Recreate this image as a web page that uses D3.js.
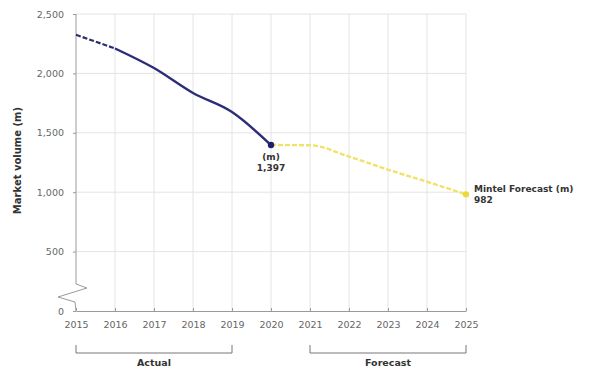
<!DOCTYPE html>
<html>
<head>
<meta charset="utf-8">
<script src="https://cdn.jsdelivr.net/npm/d3@7"></script>
<style>
  html, body { margin: 0; padding: 0; background: #fff; }
  svg { display: block; font-family: "DejaVu Sans", Verdana, sans-serif; }
</style>
</head>
<body>
<svg id="chart" width="592" height="373"></svg>
<script>
// Market volume (m), actual and forecast
const years = [2015, 2016, 2017, 2018, 2019, 2020, 2021, 2022, 2023, 2024, 2025];
const estYears = [2015, 2016];
const estValues = [2325, 2210];
const actualYears = [2016, 2017, 2018, 2019, 2020];
const actualValues = [2210, 2045, 1835, 1675, 1397];
const forecastYears = [2020, 2021, 2022, 2023, 2024, 2025];
const forecastValues = [1397, 1395, 1300, 1190, 1088, 982];
const yTicks = [0, 500, 1000, 1500, 2000, 2500];

const svg = d3.select("#chart");
const m = { left: 76, right: 466, top: 14, bottom: 311 };

const x = d3.scaleLinear().domain([2015, 2025]).range([m.left, m.right]);
const y = d3.scaleLinear().domain([0, 2500]).range([m.bottom, m.top]);

// grid
const grid = svg.append("g");
grid.selectAll("line.h").data(yTicks.slice(1)).join("line")
  .attr("x1", m.left).attr("x2", m.right)
  .attr("y1", d => y(d)).attr("y2", d => y(d))
  .attr("stroke", "#e4e4e4").attr("stroke-width", 1);
grid.selectAll("line.v").data(years.slice(1)).join("line")
  .attr("x1", d => x(d)).attr("x2", d => x(d))
  .attr("y1", m.top).attr("y2", m.bottom)
  .attr("stroke", "#e4e4e4").attr("stroke-width", 1);

// x axis
const xAxis = svg.append("g")
  .attr("transform", `translate(0,${m.bottom})`)
  .call(d3.axisBottom(x).tickValues(years).tickFormat(d3.format("d")).tickSize(3).tickSizeOuter(0).tickPadding(7));
xAxis.select(".domain").attr("stroke", "#9a9a9a");
xAxis.selectAll(".tick line").attr("stroke", "#9a9a9a").attr("transform", "translate(0,-3)");
xAxis.selectAll("text").attr("fill", "#666").attr("font-size", 9.5)
  .attr("font-family", "DejaVu Sans, Verdana, sans-serif");

// y axis (ticks and labels only; the line carries a break)
const yAxis = svg.append("g")
  .attr("transform", `translate(${m.left},0)`)
  .call(d3.axisLeft(y).tickValues(yTicks).tickFormat(d3.format(",")).tickSize(3).tickPadding(9));
yAxis.select(".domain").remove();
yAxis.selectAll(".tick line").attr("stroke", "#9a9a9a");
yAxis.selectAll("text").attr("fill", "#666").attr("font-size", 9.5)
  .attr("font-family", "DejaVu Sans, Verdana, sans-serif");

// y axis line with break symbol
const bx = m.left;
const breakPath = d3.path();
breakPath.moveTo(bx, m.top);
breakPath.lineTo(bx, 284);
breakPath.lineTo(bx + 11, 288);
breakPath.lineTo(bx - 18, 297);
breakPath.lineTo(bx - 1, 302);
breakPath.lineTo(bx, m.bottom);
svg.append("path").attr("d", breakPath.toString())
  .attr("fill", "none").attr("stroke", "#9a9a9a").attr("stroke-width", 1);

// y axis title
svg.append("text")
  .attr("transform", `translate(21,${(m.top + m.bottom) / 2 - 2}) rotate(-90)`)
  .attr("text-anchor", "middle").attr("font-size", 10).attr("font-weight", "bold")
  .attr("fill", "#333").text("Market volume (m)");

const line = d3.line().x(d => x(d[0])).y(d => y(d[1])).curve(d3.curveMonotoneX);

// estimated start (dashed)
svg.append("path").datum(d3.zip(estYears, estValues))
  .attr("d", line).attr("fill", "none")
  .attr("stroke", "#2e2e6e").attr("stroke-width", 2.2).attr("stroke-dasharray", "5,2");

// forecast (yellow dashed)
svg.append("path").datum(d3.zip(forecastYears, forecastValues))
  .attr("d", line).attr("fill", "none")
  .attr("stroke", "#efe36a").attr("stroke-width", 2.4).attr("stroke-dasharray", "5,2");

// actual (solid)
svg.append("path").datum(d3.zip(actualYears, actualValues))
  .attr("d", line).attr("fill", "none")
  .attr("stroke", "#2c2c78").attr("stroke-width", 2.4);

// end points
const lastA = actualValues.length - 1;
svg.append("circle").attr("cx", x(actualYears[lastA])).attr("cy", y(actualValues[lastA]))
  .attr("r", 3.2).attr("fill", "#1f1f6e");
const lastF = forecastValues.length - 1;
svg.append("circle").attr("cx", x(forecastYears[lastF])).attr("cy", y(forecastValues[lastF]))
  .attr("r", 3.2).attr("fill", "#ecd940");

// value labels
const fmt = d3.format(",");
const lblA = svg.append("text").attr("text-anchor", "middle")
  .attr("font-size", 9).attr("font-weight", "bold").attr("fill", "#333");
lblA.append("tspan").attr("x", x(2020)).attr("y", y(actualValues[lastA]) + 15).text("(m)");
lblA.append("tspan").attr("x", x(2020)).attr("y", y(actualValues[lastA]) + 26).text(fmt(actualValues[lastA]));

const lblF = svg.append("text").attr("font-size", 9).attr("font-weight", "bold").attr("fill", "#333");
lblF.append("tspan").attr("x", x(2025) + 8).attr("y", y(forecastValues[lastF]) - 2).text("Mintel Forecast (m)");
lblF.append("tspan").attr("x", x(2025) + 8).attr("y", y(forecastValues[lastF]) + 9).text(fmt(forecastValues[lastF]));

// period brackets
const brackets = [
  { from: 2015, to: 2019, label: "Actual" },
  { from: 2021, to: 2025, label: "Forecast" }
];
const by = 353;
brackets.forEach(b => {
  const p = d3.path();
  p.moveTo(x(b.from), by - 8);
  p.lineTo(x(b.from), by);
  p.lineTo(x(b.to), by);
  p.lineTo(x(b.to), by - 8);
  svg.append("path").attr("d", p.toString()).attr("fill", "none")
    .attr("stroke", "#777").attr("stroke-width", 1);
  svg.append("text").attr("x", (x(b.from) + x(b.to)) / 2).attr("y", by + 13)
    .attr("text-anchor", "middle").attr("font-size", 9.5).attr("font-weight", "bold")
    .attr("fill", "#333").text(b.label);
});
</script>
</body>
</html>
